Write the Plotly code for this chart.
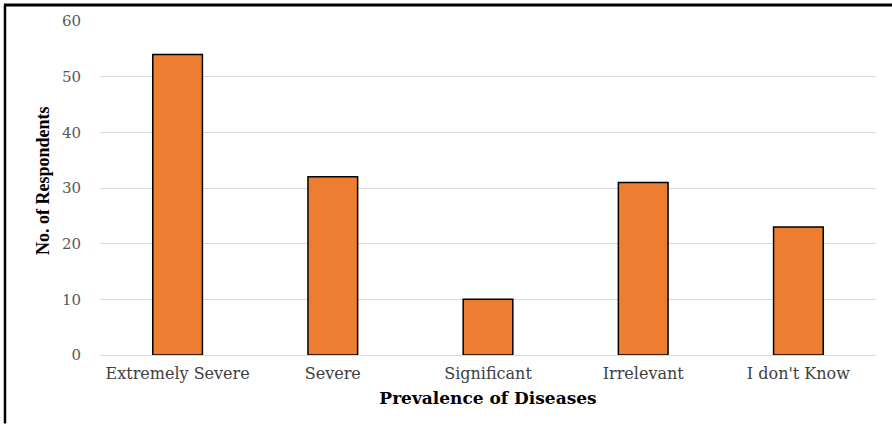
import plotly.graph_objects as go

categories = ["Extremely Severe", "Severe", "Significant", "Irrelevant", "I don't Know"]
values = [54, 32, 10, 31, 23]
y_ticks = [0, 10, 20, 30, 40, 50, 60]

W, H = 892, 424
L, R, T, B = 100, 16, 19, 69
PW, PH = W - L - R, H - T - B


def px_x(x):
    return (x - L) / PW


def px_y(y):
    return (H - B - y) / PH


fig = go.Figure(go.Bar(
    x=categories, y=values,
    marker=dict(color="#ED7D31", line=dict(color="#000000", width=1.5)),
    width=0.32,
))

fig.update_layout(
    width=W, height=H,
    margin=dict(l=L, r=R, t=T, b=B),
    paper_bgcolor="white", plot_bgcolor="white",
    font=dict(family="DejaVu Serif, serif"),
    showlegend=False,
    xaxis=dict(
        tickfont=dict(size=16, color="#404040", family="DejaVu Serif, serif"),
        ticklabelstandoff=4,
        title=dict(text="<b>Prevalence of Diseases</b>",
                   font=dict(size=17, color="#000000", family="DejaVu Serif, serif"),
                   standoff=9),
        showline=True, linecolor="#D9D9D9", linewidth=1,
        ticks="", showgrid=False,
    ),
    yaxis=dict(
        range=[0, 60], tickvals=y_ticks,
        tickfont=dict(size=15, color="#595959", family="DejaVu Serif, serif"),
        ticklabelstandoff=18,
        showgrid=True, gridcolor="#D9D9D9", gridwidth=1,
        zeroline=False, ticks="", showline=False,
    ),
    annotations=[
        dict(text="<b>No. of Respondents</b>", textangle=-90,
             xref="paper", yref="paper", x=px_x(43), y=px_y(180),
             xanchor="center", yanchor="middle", showarrow=False,
             font=dict(size=18, color="#000000", family="Liberation Serif")),
    ],
    shapes=[
        dict(type="line", xref="paper", yref="paper",
             x0=px_x(4), x1=px_x(W),
             y0=px_y(3), y1=px_y(3),
             line=dict(color="black", width=3)),
        dict(type="line", xref="paper", yref="paper",
             x0=px_x(5), x1=px_x(5),
             y0=px_y(H), y1=px_y(3),
             line=dict(color="black", width=2.5)),
    ],
)

fig.write_html("out.html", config={"displayModeBar": False},
               post_script="document.body.style.margin='0';")
